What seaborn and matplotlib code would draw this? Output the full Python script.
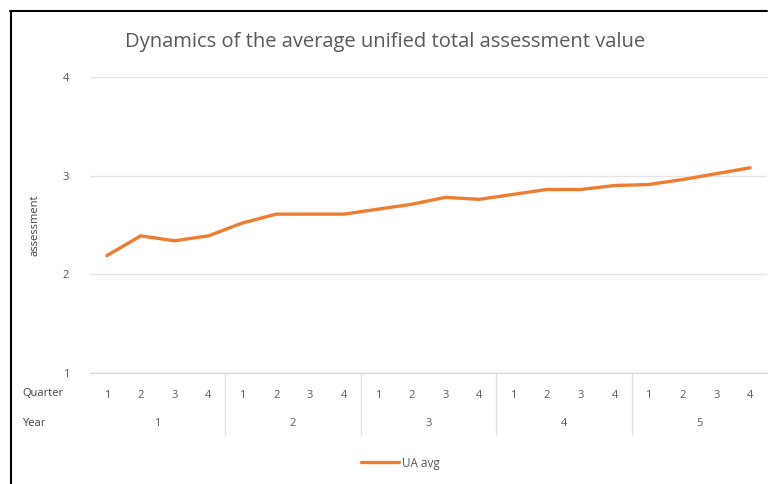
import numpy as np
import pandas as pd
import matplotlib
matplotlib.use("Agg")
import matplotlib.pyplot as plt
import seaborn as sns

# valores
years = [1, 2, 3, 4, 5]
quarters = [1, 2, 3, 4]
ua_avg = [2.19, 2.39, 2.34, 2.39, 2.52, 2.61, 2.61, 2.61, 2.66, 2.71,
          2.78, 2.76, 2.81, 2.86, 2.86, 2.90, 2.91, 2.96, 3.02, 3.08]

data = pd.DataFrame({
    'Year': np.repeat(years, len(quarters)),
    'Quarter': quarters * len(years),
    'UA avg': ua_avg,
})
data['idx'] = np.arange(len(data))

sns.set_style('white')
plt.rcParams['font.family'] = ['Open Sans', 'DejaVu Sans']

gris = '#595959'
fig = plt.figure(figsize=(7.76, 4.84), dpi=100)
ax = fig.add_axes([90 / 776, 1 - 373 / 484, 677 / 776, 296 / 484])

sns.lineplot(x='idx', y='UA avg', data=data, color='#ED7D31', linewidth=2.4,
             ax=ax, label='UA avg', legend=False)

ax.set_xlim(-0.5, len(data) - 0.5)
ax.set_ylim(1, 4)
ax.set_yticks([1, 2, 3, 4])
ax.yaxis.grid(True, color='#e4e4e4', linewidth=1)
for s in ax.spines.values():
    s.set_visible(False)
ax.spines['bottom'].set_visible(True)
ax.spines['bottom'].set_color('#d9d9d9')
ax.tick_params(axis='y', colors=gris, labelsize=8, length=0, pad=15)
ax.set_xticks(data['idx'])
ax.set_xticklabels(data['Quarter'])
ax.tick_params(axis='x', colors=gris, labelsize=8, length=0, pad=12)
ax.set_xlabel('')
ax.set_ylabel('assessment', color='#404040', fontsize=8, labelpad=16)

# fila de años y separadores entre años
trans = ax.get_xaxis_transform()
for i, y in enumerate(years):
    centro = i * len(quarters) + (len(quarters) - 1) / 2
    ax.text(centro, -0.17, str(y), transform=trans, ha='center', va='center',
            fontsize=8, color=gris)
    if i > 0:
        sep = i * len(quarters) - 0.5
        ax.plot([sep, sep], [0, -0.21], transform=trans, color='#e2e2e2',
                linewidth=1, clip_on=False)

fig.text(22 / 776, 1 - 394 / 484, 'Quarter', ha='left', va='center', fontsize=8, color='#404040')
fig.text(22 / 776, 1 - 424 / 484, 'Year', ha='left', va='center', fontsize=8, color='#404040')

fig.suptitle('Dynamics of the average unified total assessment value',
             x=0.496, y=1 - 42 / 484, va='center', fontsize=14.5, color='#595959')

fig.legend(loc='center', bbox_to_anchor=(0.516, 1 - 463 / 484), frameon=False,
           fontsize=8.5, labelcolor=gris, handlelength=3.2, handletextpad=0.2)

# marco
fig.add_artist(plt.Line2D([10 / 776, 767 / 776], [1 - 11 / 484, 1 - 11 / 484],
                          color='black', linewidth=1.5, transform=fig.transFigure))
fig.add_artist(plt.Line2D([11 / 776, 11 / 776], [1 - 11 / 484, 0],
                          color='black', linewidth=1.5, transform=fig.transFigure))

fig.savefig('out.png', dpi=100)
